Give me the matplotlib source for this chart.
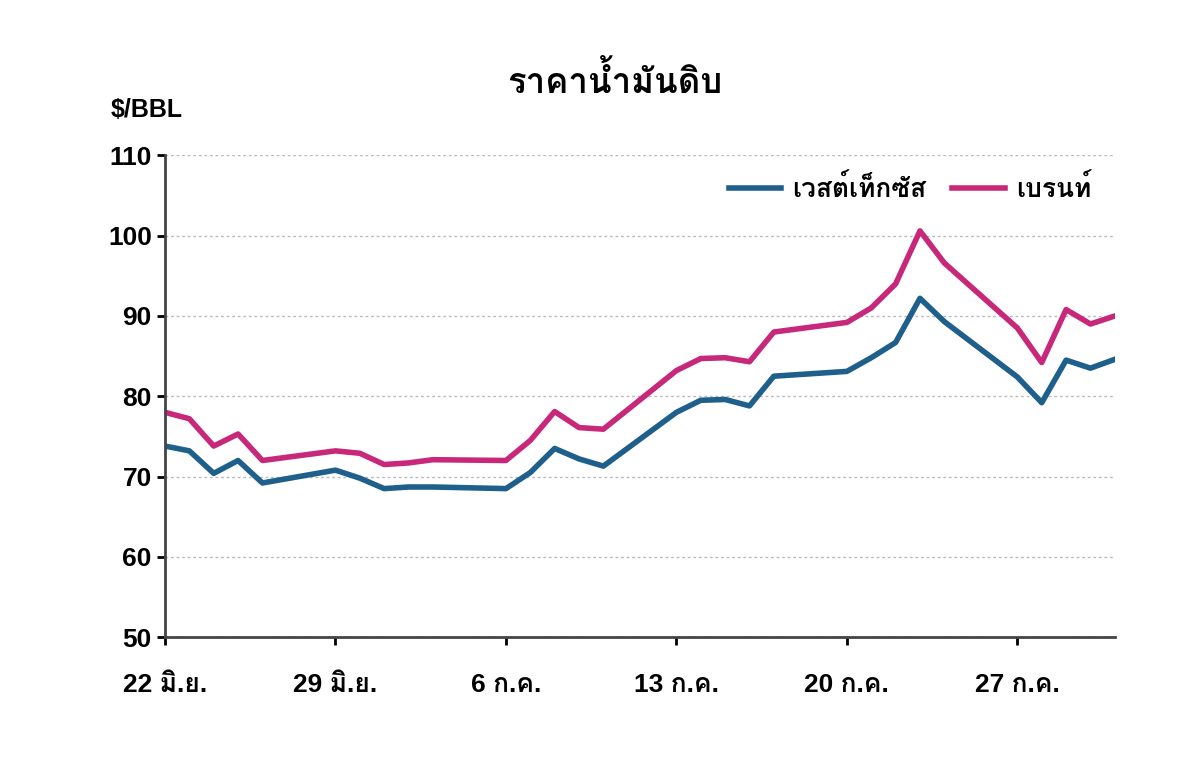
import matplotlib
matplotlib.use("Agg")
import matplotlib.pyplot as plt
from matplotlib import font_manager
from matplotlib.ft2font import FT2Font

# look for any installed family that has Thai glyphs
thai_fams = []
for f in font_manager.fontManager.ttflist:
    try:
        if 0x0E01 in FT2Font(f.fname).get_charmap() and f.name not in thai_fams:
            thai_fams.append(f.name)
    except Exception:
        pass

plt.rcParams['font.family'] = ['Liberation Sans'] + thai_fams + ['DejaVu Sans']

days = [0, 1, 2, 3, 4, 7, 8, 9, 10, 11, 14, 15, 16, 17, 18, 21, 22, 23, 24, 25,
        28, 29, 30, 31, 32, 35, 36, 37, 38, 39]
wti = [73.8, 73.2, 70.4, 72, 69.2, 70.8, 69.8, 68.5, 68.7, 68.7, 68.5, 70.5, 73.5,
       72.2, 71.3, 78, 79.5, 79.6, 78.8, 82.5, 83.1, 84.8, 86.7, 92.2, 89.3, 82.4,
       79.2, 84.5, 83.5, 84.6]
brent = [78, 77.2, 73.8, 75.3, 72, 73.2, 72.9, 71.5, 71.7, 72.1, 72, 74.5, 78.1,
         76.1, 75.9, 83.2, 84.7, 84.8, 84.3, 88, 89.2, 91, 94, 100.6, 96.6, 88.5,
         84.2, 90.8, 89, 90]
tick_days = [0, 7, 14, 21, 28, 35]
tick_labels = ['22 มิ.ย.', '29 มิ.ย.', '6 ก.ค.', '13 ก.ค.', '20 ก.ค.', '27 ก.ค.']

fig = plt.figure(figsize=(12, 7.77), dpi=100)
ax = fig.add_axes([0.1375, 0.18, 0.7915, 0.62])
ax.plot(days, wti, color='#1f5f8b', lw=4, label='เวสต์เท็กซัส')
ax.plot(days, brent, color='#c8287a', lw=4, label='เบรนท์')
ax.set_xlim(0, 39)
ax.set_ylim(50, 110)
ax.set_yticks(range(50, 111, 10))
ax.set_xticks(tick_days)
ax.set_xticklabels(tick_labels)
ax.tick_params(labelsize=19, width=2, length=6)
for t in ax.get_xticklabels() + ax.get_yticklabels():
    t.set_fontweight('bold')
ax.tick_params(axis='x', pad=20)
ax.grid(axis='y', color='#bbbbbb', ls=(0, (2, 2)), lw=1)
for s in ['top', 'right']:
    ax.spines[s].set_visible(False)
for s in ['left', 'bottom']:
    ax.spines[s].set_linewidth(2)
    ax.spines[s].set_color('#444444')
ax.legend(loc='upper right', ncol=2, frameon=False, prop={'size': 19, 'weight': 'bold'},
          handlelength=2, handletextpad=0.4, columnspacing=1, bbox_to_anchor=(1.0, 1.01))
fig.text(0.512, 0.88, 'ราคาน้ำมันดิบ', ha='center', fontsize=25, fontweight='bold')
fig.text(0.092, 0.85, '$/BBL', fontsize=18, fontweight='bold')
fig.savefig('out.png')
